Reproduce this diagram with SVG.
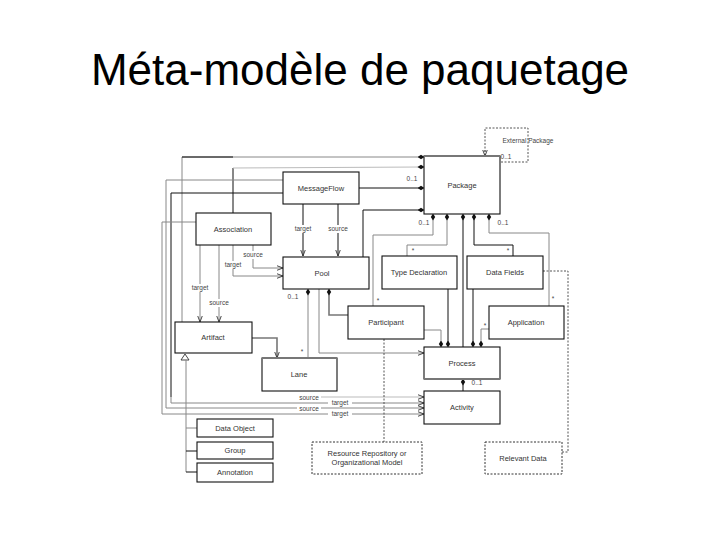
<svg xmlns="http://www.w3.org/2000/svg" width="720" height="540" viewBox="0 0 720 540">
<defs>
<style>
.box{fill:#fff;stroke:#111;stroke-width:1.1}
.dbox{fill:#fff;stroke:#333;stroke-width:1;stroke-dasharray:2,1.5}
.lbl{font-family:"Liberation Sans",Arial,sans-serif;font-size:7.5px;fill:#333;text-anchor:middle}
.sm{font-family:"Liberation Sans",Arial,sans-serif;font-size:6.5px;fill:#444;text-anchor:middle}
.k{fill:none;stroke:#111;stroke-width:1}
.g{fill:none;stroke:#888;stroke-width:1}
.lg{fill:none;stroke:#bbb;stroke-width:1}
.gt{fill:none;stroke:#777;stroke-width:1.6}
.d{fill:none;stroke:#555;stroke-width:1;stroke-dasharray:2,1.5}
</style>
<marker id="dia" viewBox="0 0 8 8" refX="4" refY="4" markerUnits="userSpaceOnUse" markerWidth="7" markerHeight="7" orient="auto"><path d="M0,4 L4,1.5 L8,4 L4,6.5 Z" fill="#111"/></marker>
<marker id="arr" viewBox="0 0 8 8" refX="8" refY="4" markerUnits="userSpaceOnUse" markerWidth="6" markerHeight="6" orient="auto"><path d="M0,1 L8,4 L0,7" fill="none" stroke="#333" stroke-width="1.2"/></marker>
</defs>
<rect width="720" height="540" fill="#fff"/>
<text x="360" y="85" font-family="'Liberation Sans',Arial,sans-serif" font-size="44" text-anchor="middle" fill="#000">Méta-modèle de paquetage</text>

<g id="connectors">
<polyline class="g" points="182,322 182,157 421,157" marker-end="url(#dia)"/>
<polyline class="k" points="182,157 233,157"/>
<polyline class="k" points="233,213 233,168"/>
<polyline class="lg" points="233,168 421,167" marker-end="url(#dia)"/>
<polyline class="k" points="359,188 421,188" marker-end="url(#dia)"/>
<polyline class="k" points="363,257 363,210 421,210" marker-end="url(#dia)"/>
<polyline class="g" points="283,180 166,180 166,408 424,408" marker-end="url(#arr)"/>
<polyline class="k" points="283,193 171,193 171,397"/>
<polyline class="g" points="171,397 171,403 424,403" marker-end="url(#arr)"/>
<polyline class="g" points="196,222 162,222 162,414 424,414" marker-end="url(#arr)"/>
<polyline class="lg" points="300,397 424,397" marker-end="url(#arr)"/>
<line class="k" x1="303" y1="204" x2="303" y2="256" marker-end="url(#arr)"/>
<line class="k" x1="338" y1="204" x2="338" y2="256" marker-end="url(#arr)"/>
<polyline class="g" points="253,245 253,268 283,268" marker-end="url(#arr)"/>
<polyline class="g" points="233,245 233,276 283,276" marker-end="url(#arr)"/>
<line class="g" x1="200" y1="245" x2="200" y2="322" marker-end="url(#arr)"/>
<line class="g" x1="219" y1="245" x2="219" y2="322" marker-end="url(#arr)"/>
<polyline class="gt" points="252,338 277,338 277,358" marker-end="url(#arr)"/>
<line class="g" x1="308" y1="292" x2="308" y2="358" marker-start="url(#dia)"/>
<polyline class="gt" points="329,292 329,315 348,315" marker-start="url(#dia)"/>
<polyline class="g" points="319,289 319,353 424,353" marker-end="url(#arr)"/>
<polyline class="g" points="433,217 433,235 373,235 373,306" marker-start="url(#dia)"/>
<polyline class="g" points="447,217 447,245 407,245 407,256" marker-start="url(#dia)"/>
<line class="k" x1="463" y1="217" x2="463" y2="347" marker-start="url(#dia)"/>
<polyline class="k" points="474,217 474,245 513,245 513,256" marker-start="url(#dia)"/>
<polyline class="g" points="489,217 489,233 549,233 549,306" marker-start="url(#dia)"/>
<polyline class="g" points="424,330 441,330 441,344" marker-end="url(#dia)"/>
<line class="k" x1="448" y1="289" x2="448" y2="344" marker-end="url(#dia)"/>
<line class="k" x1="473" y1="289" x2="473" y2="344" marker-end="url(#dia)"/>
<polyline class="g" points="489,329 481,329 481,344" marker-end="url(#dia)"/>
<line class="k" x1="463" y1="382" x2="463" y2="391" marker-start="url(#dia)"/>
<line class="d" x1="384" y1="339" x2="384" y2="442"/>
<polyline class="d" points="543,271 568,271 568,452 562,452"/>
<polyline class="d" points="485,152 485,128 528,128 528,162 500,162"/>
<line class="d" x1="485" y1="150" x2="485" y2="156" marker-end="url(#arr)"/>
<polygon points="185,354 181,360 189,360" fill="#fff" stroke="#333" stroke-width="0.9"/>
<line class="g" x1="186" y1="360" x2="186" y2="472"/>
<line class="g" x1="186" y1="428" x2="197" y2="428"/>
<line class="k" x1="186" y1="451" x2="197" y2="451"/>
<line class="k" x1="186" y1="472" x2="197" y2="472"/>
</g>

<g id="labels">
<text class="sm" x="412" y="181">0..1</text>
<text class="sm" x="506" y="159">0..1</text>
<rect x="292" y="225" width="22" height="8" fill="#fff"/><text class="sm" x="303" y="231">target</text>
<rect x="327" y="225" width="22" height="8" fill="#fff"/><text class="sm" x="338" y="231">source</text>
<rect x="243" y="251" width="22" height="8" fill="#fff"/><text class="sm" x="253" y="257">source</text>
<rect x="222" y="261" width="22" height="8" fill="#fff"/><text class="sm" x="233" y="267">target</text>
<rect x="190" y="284" width="22" height="8" fill="#fff"/><text class="sm" x="200" y="290">target</text>
<rect x="208" y="299" width="22" height="8" fill="#fff"/><text class="sm" x="219" y="305">source</text>
<text class="sm" x="293" y="299">0..1</text>
<text class="sm" x="302" y="354">*</text>
<text class="sm" x="424" y="225">0..1</text>
<text class="sm" x="503" y="225">0..1</text>
<text class="sm" x="413" y="253">*</text>
<text class="sm" x="508" y="253">*</text>
<text class="sm" x="378" y="303">*</text>
<text class="sm" x="553" y="301">*</text>
<text class="sm" x="485" y="328">*</text>
<text class="sm" x="477" y="385">0..1</text>
<rect x="297" y="395" width="24" height="5" fill="#fff"/><text class="sm" x="309" y="400">source</text>
<rect x="328" y="400" width="24" height="6" fill="#fff"/><text class="sm" x="340" y="405">target</text>
<rect x="297" y="405" width="24" height="6" fill="#fff"/><text class="sm" x="309" y="411">source</text>
<rect x="328" y="411" width="24" height="6" fill="#fff"/><text class="sm" x="340" y="416">target</text>
</g>

<g id="MessageFlow"><rect class="box" x="283" y="172" width="76" height="32"/><text class="lbl" x="321" y="191">MessageFlow</text></g>
<g id="Package"><rect class="box" x="424" y="156" width="76" height="58"/><line x1="424" y1="156" x2="500" y2="156" stroke="#777" stroke-width="2"/><text class="lbl" x="462" y="188">Package</text></g>
<g id="ExternalPackage"><text class="sm" x="528" y="143">External Package</text></g>
<g id="Association"><rect class="box" x="196" y="213" width="75" height="32"/><text class="lbl" x="233" y="232">Association</text></g>
<g id="Pool"><rect class="box" x="283" y="257" width="86" height="32"/><text class="lbl" x="322" y="276">Pool</text></g>
<g id="TypeDeclaration"><rect class="box" x="382" y="256" width="75" height="33"/><text class="lbl" x="419" y="275">Type Declaration</text></g>
<g id="DataFields"><rect class="box" x="467" y="256" width="76" height="33"/><text class="lbl" x="505" y="275">Data Fields</text></g>
<g id="Participant"><rect class="box" x="348" y="306" width="76" height="33"/><text class="lbl" x="386" y="325">Participant</text></g>
<g id="Application"><rect class="box" x="489" y="306" width="75" height="33"/><text class="lbl" x="526" y="325">Application</text></g>
<g id="Artifact"><rect class="box" x="175" y="322" width="77" height="31"/><text class="lbl" x="213" y="340">Artifact</text></g>
<g id="Lane"><rect class="box" x="262" y="358" width="75" height="33"/><line x1="262" y1="358" x2="337" y2="358" stroke="#777" stroke-width="2"/><text class="lbl" x="299" y="377">Lane</text></g>
<g id="Process"><rect class="box" x="424" y="347" width="76" height="32"/><line x1="424" y1="379" x2="500" y2="379" stroke="#777" stroke-width="2"/><text class="lbl" x="462" y="366">Process</text></g>
<g id="Activity"><rect class="box" x="424" y="391" width="76" height="33"/><text class="lbl" x="462" y="410">Activity</text></g>
<g id="DataObject"><rect class="box" x="197" y="419" width="76" height="18"/><text class="lbl" x="235" y="431">Data Object</text></g>
<g id="Group"><rect class="box" x="197" y="442" width="76" height="17"/><text class="lbl" x="235" y="453">Group</text></g>
<g id="Annotation"><rect class="box" x="197" y="463" width="76" height="19"/><text class="lbl" x="235" y="475">Annotation</text></g>
<g id="ResourceRepository"><rect class="dbox" x="312" y="442" width="110" height="32"/><text class="lbl" x="367" y="456">Resource Repository or</text><text class="lbl" x="367" y="465">Organizational Model</text></g>
<g id="RelevantData"><rect class="dbox" x="485" y="442" width="77" height="32"/><text class="lbl" x="523" y="461">Relevant Data</text></g>
</svg>
